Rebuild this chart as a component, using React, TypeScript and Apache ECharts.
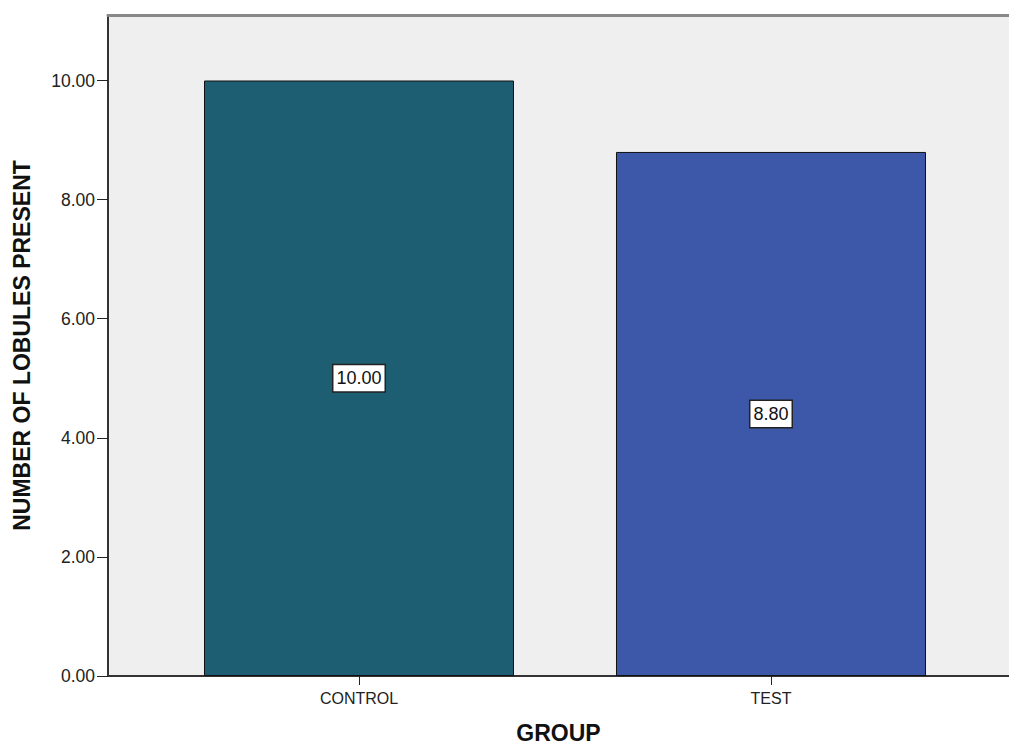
import React, { useEffect, useRef } from "react";
import * as echarts from "echarts";

const categories = ["CONTROL", "TEST"];
const values = [10.0, 8.8];
const barColors = ["#1E5E73", "#3D58A9"];
const yTicks = [0, 2, 4, 6, 8, 10];

export default function App() {
  const ref = useRef<HTMLDivElement>(null);
  useEffect(() => {
    document.body.style.margin = "0";
    const chart = echarts.init(ref.current!, null, { renderer: "svg" });
    const font = "Arial, 'Liberation Sans', sans-serif";
    chart.setOption({
      animation: false,
      backgroundColor: "#ffffff",
      textStyle: { fontFamily: font },
      grid: { left: 108, top: 15, right: 0, bottom: 65, show: true, backgroundColor: "#EFEFEF", borderWidth: 0 },
      xAxis: [
        {
          type: "value",
          min: 0.3908,
          max: 2.5777,
          name: "GROUP",
          nameLocation: "middle",
          nameGap: 45,
          nameTextStyle: { fontSize: 23, fontWeight: "bold", color: "#111", fontFamily: font },
          axisLine: { show: true, onZero: false, lineStyle: { color: "#333", width: 2 } },
          axisTick: { show: true, customValues: [1, 2], length: 9, lineStyle: { color: "#222", width: 1 } },
          axisLabel: {
            customValues: [1, 2],
            formatter: (v: number) => categories[Math.round(v) - 1] ?? "",
            fontSize: 16,
            color: "#222",
            margin: 14,
            fontFamily: font,
          },
          splitLine: { show: false },
        },
        {
          type: "value",
          position: "top",
          min: 0,
          max: 1,
          axisLine: { show: true, onZero: false, lineStyle: { color: "#888", width: 3 } },
          axisTick: { show: false },
          axisLabel: { show: false },
          splitLine: { show: false },
        },
      ],
      yAxis: {
        type: "value",
        min: 0,
        max: 11.1,
        interval: 2,
        name: "NUMBER OF LOBULES PRESENT",
        nameLocation: "middle",
        nameGap: 75,
        nameRotate: 90,
        nameTextStyle: { fontSize: 23, fontWeight: "bold", color: "#111", fontFamily: font },
        axisLine: { show: true, lineStyle: { color: "#333", width: 2 } },
        axisTick: { show: true, customValues: yTicks, length: 11, lineStyle: { color: "#222", width: 1 } },
        axisLabel: {
          customValues: yTicks,
          fontSize: 17.5,
          color: "#222",
          margin: 13,
          fontFamily: font,
          formatter: (v: number) => v.toFixed(2),
        },
        splitLine: { show: false },
      },
      series: [
        {
          type: "bar",
          xAxisIndex: 0,
          barWidth: 310,
          data: values.map((v, i) => ({
            value: [i + 1, v],
            itemStyle: { color: barColors[i], borderColor: "#111", borderWidth: 1 },
          })),
          label: {
            show: true,
            position: "inside",
            formatter: (p: any) => p.value[1].toFixed(2),
            backgroundColor: "#ffffff",
            borderColor: "#222",
            borderWidth: 1.5,
            padding: [4, 3, 3, 3],
            fontSize: 18,
            lineHeight: 19,
            color: "#111",
            fontFamily: font,
          },
        },
      ],
    });
    return () => chart.dispose();
  }, []);
  return <div ref={ref} style={{ width: 1009, height: 749, position: "absolute", left: 0, top: 0 }} />;
}
